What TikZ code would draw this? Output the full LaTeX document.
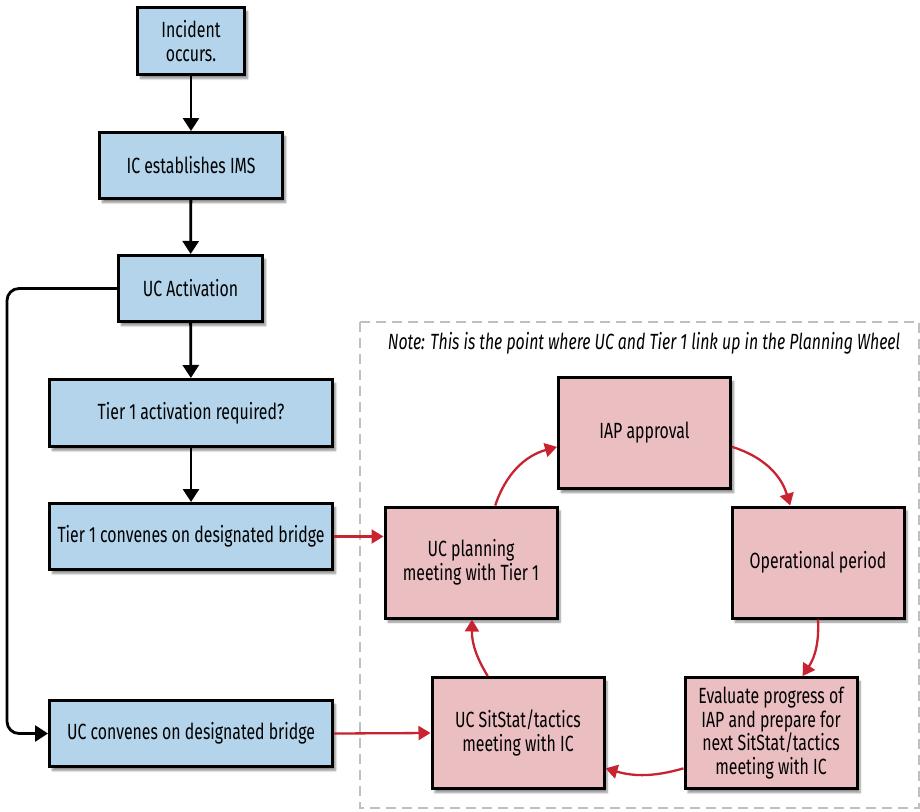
\documentclass[tikz,border=0pt]{standalone}
\usepackage{fontspec}
\setmainfont{Fira Sans}[FakeStretch=0.72]
\usetikzlibrary{arrows.meta,shadows.blur,calc}
\definecolor{boxblue}{RGB}{179,212,234}
\definecolor{boxpink}{RGB}{235,190,193}
\definecolor{wheelred}{RGB}{200,35,48}
\definecolor{notegray}{RGB}{192,192,192}
\begin{document}
\begin{tikzpicture}[x=1pt,y=-1pt,
  basebox/.style={draw=black, line width=3pt, align=center, inner sep=0pt,
    font=\fontsize{22}{23.5}\selectfont,
    blur shadow={shadow xshift=3pt, shadow yshift=-4pt, shadow blur steps=6, shadow opacity=45}},
  bluebox/.style={basebox, fill=boxblue},
  pinkbox/.style={basebox, fill=boxpink, minimum width=172pt, minimum height=111pt},
  flow/.style={line width=2.8pt, -{Triangle[width=16pt,length=13pt]}},
  wheel/.style={draw=wheelred, line width=2.3pt, -{Triangle[width=14pt,length=12pt]}}
]
\useasboundingbox (0,0) rectangle (920,811);

% dashed frame around the planning wheel
\draw[notegray, line width=2pt, dash pattern=on 10pt off 6pt] (360,322) rectangle (919,808);
\node (note) at (644,343) {\fontsize{22}{23.5}\selectfont\itshape Note: This is the point where UC and Tier 1 link up in the Planning Wheel};

% left-hand activation sequence
\node[bluebox, minimum width=107pt, minimum height=67pt] (inc) at (191,41) {Incident\\occurs.};
\node[bluebox, minimum width=183pt, minimum height=66pt] (ims) at (191,165.5) {IC establishes IMS};
\node[bluebox, minimum width=144pt, minimum height=66pt] (ucact) at (190.5,288.5) {UC Activation};
\node[bluebox, minimum width=283pt, minimum height=67pt] (t1a) at (191,413) {Tier 1 activation required?};
\node[bluebox, minimum width=283pt, minimum height=66pt] (t1c) at (191,536.5) {Tier 1 convenes on designated bridge};
\node[bluebox, minimum width=283pt, minimum height=66pt] (ucc) at (191,733.5) {UC convenes on designated bridge};

\draw[flow] (inc) -- (ims);
\draw[flow] (ims) -- (ucact);
\draw[flow] (ucact) -- (t1a);
\draw[flow] (t1a) -- (t1c);
\coordinate (loopx) at (7,500);
\draw[flow, rounded corners=12pt] (ucact.west) -| (loopx |- ucc.west) -- (ucc.west);

% planning wheel
\node[pinkbox] (iap) at (644.5,433) {IAP approval};
\node[pinkbox] (op) at (818,562.5) {Operational period};
\node[pinkbox] (plan) at (471,562.5) {UC planning\\meeting with Tier 1};
\node[pinkbox] (sit) at (518,733) {UC SitStat/tactics\\meeting with IC};
\node[pinkbox] (eval) at (771,733) {Evaluate progress of\\IAP and prepare for\\next SitStat/tactics\\meeting with IC};

\draw[wheel] (plan.67) to[bend left=28] (iap.189);
\draw[wheel] (iap.-9) to[bend left=28] (op.116);
\draw[wheel] (op.-90) to[bend left=18] (eval.61);
\draw[wheel] (eval.202) to[bend left=16] (sit.-22);
\draw[wheel] (sit.118) to[bend left=16] (plan.-89);

% links from the bridges into the wheel
\draw[wheel] (t1c.east) -- (t1c.east -| plan.west);
\draw[wheel] (ucc.east) -- (sit.west);
\end{tikzpicture}
\end{document}
